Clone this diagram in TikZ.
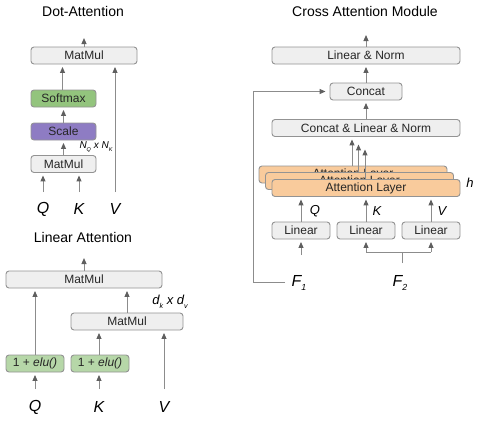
\documentclass[tikz,border=0pt]{standalone}
\usepackage{fontspec}
\setmainfont{Liberation Sans}
\usepackage{tikz}
\usetikzlibrary{arrows.meta}
\definecolor{boxgray}{HTML}{EFEFEF}
\definecolor{boxline}{HTML}{939393}
\definecolor{lineclr}{HTML}{8C8C8C}
\definecolor{tipclr}{HTML}{5F5F5F}
\definecolor{softgreen}{HTML}{93C47D}
\definecolor{scalepurple}{HTML}{8E7CC3}
\definecolor{elugreen}{HTML}{B6D7A8}
\definecolor{attorange}{HTML}{F9CB9C}
\newcommand{\lowsub}[1]{\raisebox{-0.55ex}{\fontsize{0.55em}{0.6em}\selectfont #1}}

\begin{document}
\begin{tikzpicture}[x=1pt,y=-1pt,
	  box/.style={draw=boxline, fill=boxgray, rounded corners=3pt, minimum height=17pt,
	    inner sep=0pt, line width=0.9pt, text=black!85, font=\fontsize{12}{14}\selectfont},
	  arr/.style={draw=lineclr, line width=1pt, -{Triangle[width=5pt,length=6pt,color=tipclr]}},
	  tobox/.style={shorten >=2.5pt},
	  wire/.style={draw=lineclr, line width=1pt},
	  ttl/.style={font=\fontsize{14}{16}\selectfont},
	  var/.style={font=\fontsize{16}{18}\selectfont\itshape},
	  lbl/.style={font=\fontsize{13}{15}\selectfont\itshape}]
	  \useasboundingbox (0,0) rectangle (480,423);

	  % Dot-Attention
	  \node[ttl] (dottitle) at (83,11) {Dot-Attention};
	  \node[box, minimum width=106] (mmout) at (84,55.5) {MatMul};
	  \node[box, fill=softgreen, minimum width=65] (softmax) at (63.5,98.5) {Softmax};
	  \node[box, fill=scalepurple, minimum width=65] (scale) at (63.5,131.5) {Scale};
	  \node[box, minimum width=65] (mmqk) at (63.5,164) {MatMul};
	  \node[var] (dq) at (43,209) {Q};
	  \node[var] (dk) at (79,209) {K};
	  \node[var] (dv) at (115,209) {V};
	  \node[font=\fontsize{10}{12}\selectfont\itshape] (nqk) at (96,147) {N\lowsub{Q} x N\lowsub{K}};
	  \coordinate (dout) at (84,38);
	  \coordinate (dqin) at (43,192);
	  \coordinate (dkin) at (79,192);
	  \coordinate (dvin) at (115,192);
	  \draw[arr] (mmout) -- (dout);
	  \draw[arr,tobox] ([xshift=-1pt]softmax.north) -- ([xshift=-1pt]softmax.north |- mmout.south);
	  \draw[arr,tobox] (scale) -- (softmax);
	  \draw[arr,tobox] (mmqk) -- (scale);
	  \draw[arr,tobox] (dqin) -- (dqin |- mmqk.south);
	  \draw[arr,tobox] (dkin) -- (dkin |- mmqk.south);
	  \draw[arr,tobox] (dvin) -- (dvin |- mmout.south);

	  % Linear Attention
	  \node[ttl] (lintitle) at (83,237) {Linear Attention};
	  \node[box, minimum width=156] (lmout) at (84,279.5) {MatMul};
	  \node[box, minimum width=112] (lmkv) at (127,321.5) {MatMul};
	  \node[box, fill=elugreen, minimum width=58] (eluq) at (35,363.5) {1 + \textit{elu()}};
	  \node[box, fill=elugreen, minimum width=58] (eluk) at (100,363.5) {1 + \textit{elu()}};
	  \node[var] (lq) at (35,407) {Q};
	  \node[var] (lk) at (99,407) {K};
	  \node[var] (lv) at (164,407) {V};
	  \node[lbl] (dkv) at (170,302) {d\lowsub{k} x d\lowsub{v}};
	  \coordinate (lout) at (84,258);
	  \coordinate (lqin) at (35,389);
	  \coordinate (lkin) at (99,389);
	  \coordinate (lvin) at (164,389);
	  \draw[arr] (lmout) -- (lout);
	  \draw[arr,tobox] (eluq) -- (eluq |- lmout.south);
	  \draw[arr,tobox] (lmkv) -- (lmkv |- lmout.south);
	  \draw[arr,tobox] ([xshift=-1pt]eluk.north) -- ([xshift=-1pt]eluk.north |- lmkv.south);
	  \draw[arr,tobox] (lqin) -- (lqin |- eluq.south);
	  \draw[arr,tobox] (lkin) -- (lkin |- eluk.south);
	  \draw[arr,tobox] (lvin) -- (lvin |- lmkv.south);

	  % Cross Attention Module
	  \node[ttl] (crosstitle) at (365,11) {Cross Attention Module};
	  \node[box, minimum width=188] (ln) at (366,55.5) {Linear \& Norm};
	  \node[box, minimum width=72] (concat) at (366,91.5) {Concat};
	  \node[box, minimum width=188] (cln) at (366,128) {Concat \& Linear \& Norm};
	  \node[box, fill=attorange, minimum width=188] (att3) at (353,174.5) {Attention Layer};
	  \node[box, fill=attorange, minimum width=188] (att2) at (359.5,181) {Attention Layer};
	  \node[box, fill=attorange, minimum width=188] (att1) at (366,188) {Attention Layer};
	  \node[box, minimum width=58] (lin1) at (301,230.5) {Linear};
	  \node[box, minimum width=58] (lin2) at (366,230.5) {Linear};
	  \node[box, minimum width=58] (lin3) at (431,230.5) {Linear};
	  \node[lbl] (cq) at (315,211) {Q};
	  \node[lbl] (ck) at (377,211) {K};
	  \node[lbl] (cv) at (442,211) {V};
	  \node[lbl] (heads) at (470,183) {h};
	  \node[var] (f1) at (299,283) {F\lowsub{1}};
	  \node[var] (f2) at (400,283) {F\lowsub{2}};
	  \coordinate (cout) at (366,35);
	  \coordinate (f1in) at (301,255);
	  \coordinate (f1tap) at (285,282);
	  \coordinate (f2in) at (402,263);
	  \coordinate (f2split) at (402,252);
	  \draw[arr] (ln) -- (cout);
	  \draw[arr,tobox] (concat) -- (ln);
	  \draw[arr,tobox] (cln) -- (concat);
	  \draw[arr,tobox] ([xshift=-1pt]att3.north) -- ([xshift=-1pt]att3.north |- cln.south);
	  \draw[arr,shorten >=7.5pt] ([xshift=-1pt]att2.north) -- ([xshift=-1pt]att2.north |- cln.south);
	  \draw[arr,shorten >=12.5pt] ([xshift=-1pt]att1.north) -- ([xshift=-1pt]att1.north |- cln.south);
	  \draw[arr,tobox] (lin1) -- (lin1 |- att1.south);
	  \draw[arr,tobox] (lin2) -- (lin2 |- att1.south);
	  \draw[arr,tobox] (lin3) -- (lin3 |- att1.south);
	  \draw[arr,tobox] (f1in) -- (lin1);
	  \draw[wire] (f2in) -- (f2split);
	  \draw[wire] (f2split -| lin2) -- (f2split -| lin3);
	  \draw[arr,tobox] (f2split -| lin2) -- (lin2);
	  \draw[arr,tobox] (f2split -| lin3) -- (lin3);
	  \draw[arr,shorten >=4pt] (f1tap) -- ++(-32,0) |- (concat.west);
	\end{tikzpicture}
\end{document}
